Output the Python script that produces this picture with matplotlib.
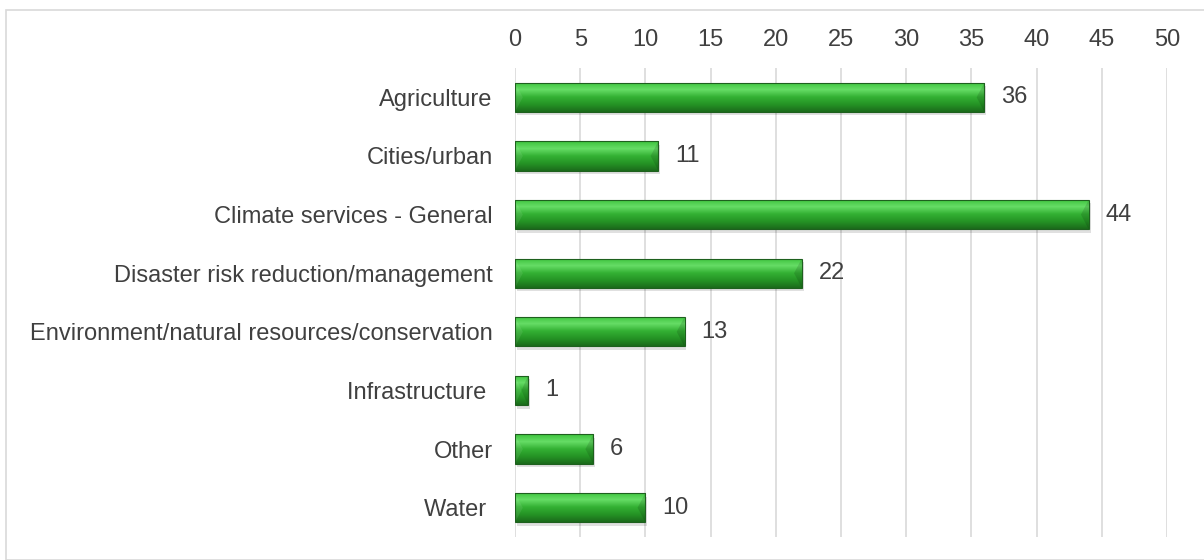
import numpy as np
import matplotlib.pyplot as plt
from matplotlib.patches import Rectangle, Polygon
from matplotlib.colors import LinearSegmentedColormap

plt.rcParams['font.family'] = ['Liberation Sans', 'DejaVu Sans']

# Datos
categorias = ["Agriculture", "Cities/urban", "Climate services - General",
              "Disaster risk reduction/management",
              "Environment/natural resources/conservation",
              "Infrastructure ", "Other", "Water "]
valores = [36, 11, 44, 22, 13, 1, 6, 10]
ticks_x = [0, 5, 10, 15, 20, 25, 30, 35, 40, 45, 50]

texto = '#404040'
fs = 17
verde = LinearSegmentedColormap.from_list(
    'verde', ['#1b6b1b', '#259325', '#33b033', '#66dd66', '#3cc23c'])

fig = plt.figure(figsize=(12.04, 5.6), dpi=100)
# marco exterior
fig.add_artist(Rectangle((6 / 1204, 0), 1.2, 1 - 10 / 560, transform=fig.transFigure,
                         fill=False, edgecolor='#d9d9d9', linewidth=1.2))

ax = fig.add_axes([515 / 1204, 23 / 560, 652 / 1204, 469 / 560])

alto = 0.5
grad = np.linspace(0, 1, 100).reshape(-1, 1)
for i, v in enumerate(valores):
    y0, y1 = i - alto / 2, i + alto / 2
    # sombra
    ax.add_patch(Rectangle((0.15, y0 + 0.06), v, alto, facecolor='#000000',
                           alpha=0.12, edgecolor='none', zorder=2))
    rect = Rectangle((0, y0), v, alto, facecolor='none',
                     edgecolor='#1e601e', linewidth=0.8, zorder=5)
    ax.add_patch(rect)
    im = ax.imshow(grad, cmap=verde, aspect='auto', zorder=3,
                   extent=(0, v, y1, y0), origin='lower')
    im.set_clip_path(rect)
    # bisel en los extremos
    b = min(0.6, v / 2)
    ax.add_patch(Polygon([(0, y0), (b, i), (0, y1)], closed=True,
                         facecolor='#ffffff', alpha=0.08, edgecolor='none', zorder=4))
    ax.add_patch(Polygon([(v, y0), (v - b, i), (v, y1)], closed=True,
                         facecolor='#000000', alpha=0.12, edgecolor='none', zorder=4))
    ax.text(v + 1.3, i, str(v), va='center', ha='left', fontsize=fs, color=texto)

ax.set_aspect('auto')
ax.set_xlim(0, 50)
ax.set_ylim(len(categorias) - 0.5, -0.5)

ax.set_xticks(ticks_x)
ax.set_yticks(range(len(categorias)))
ax.set_yticklabels(categorias)
ax.xaxis.tick_top()
ax.tick_params(axis='x', length=0, labelsize=fs, labelcolor=texto, pad=12)
ax.tick_params(axis='y', length=0, labelsize=fs, labelcolor=texto, pad=16)
ax.grid(axis='x', color='#d9d9d9', linewidth=1.2, zorder=0)
ax.set_axisbelow(True)
for s in ax.spines.values():
    s.set_visible(False)

fig.savefig('out.png', dpi=100)
